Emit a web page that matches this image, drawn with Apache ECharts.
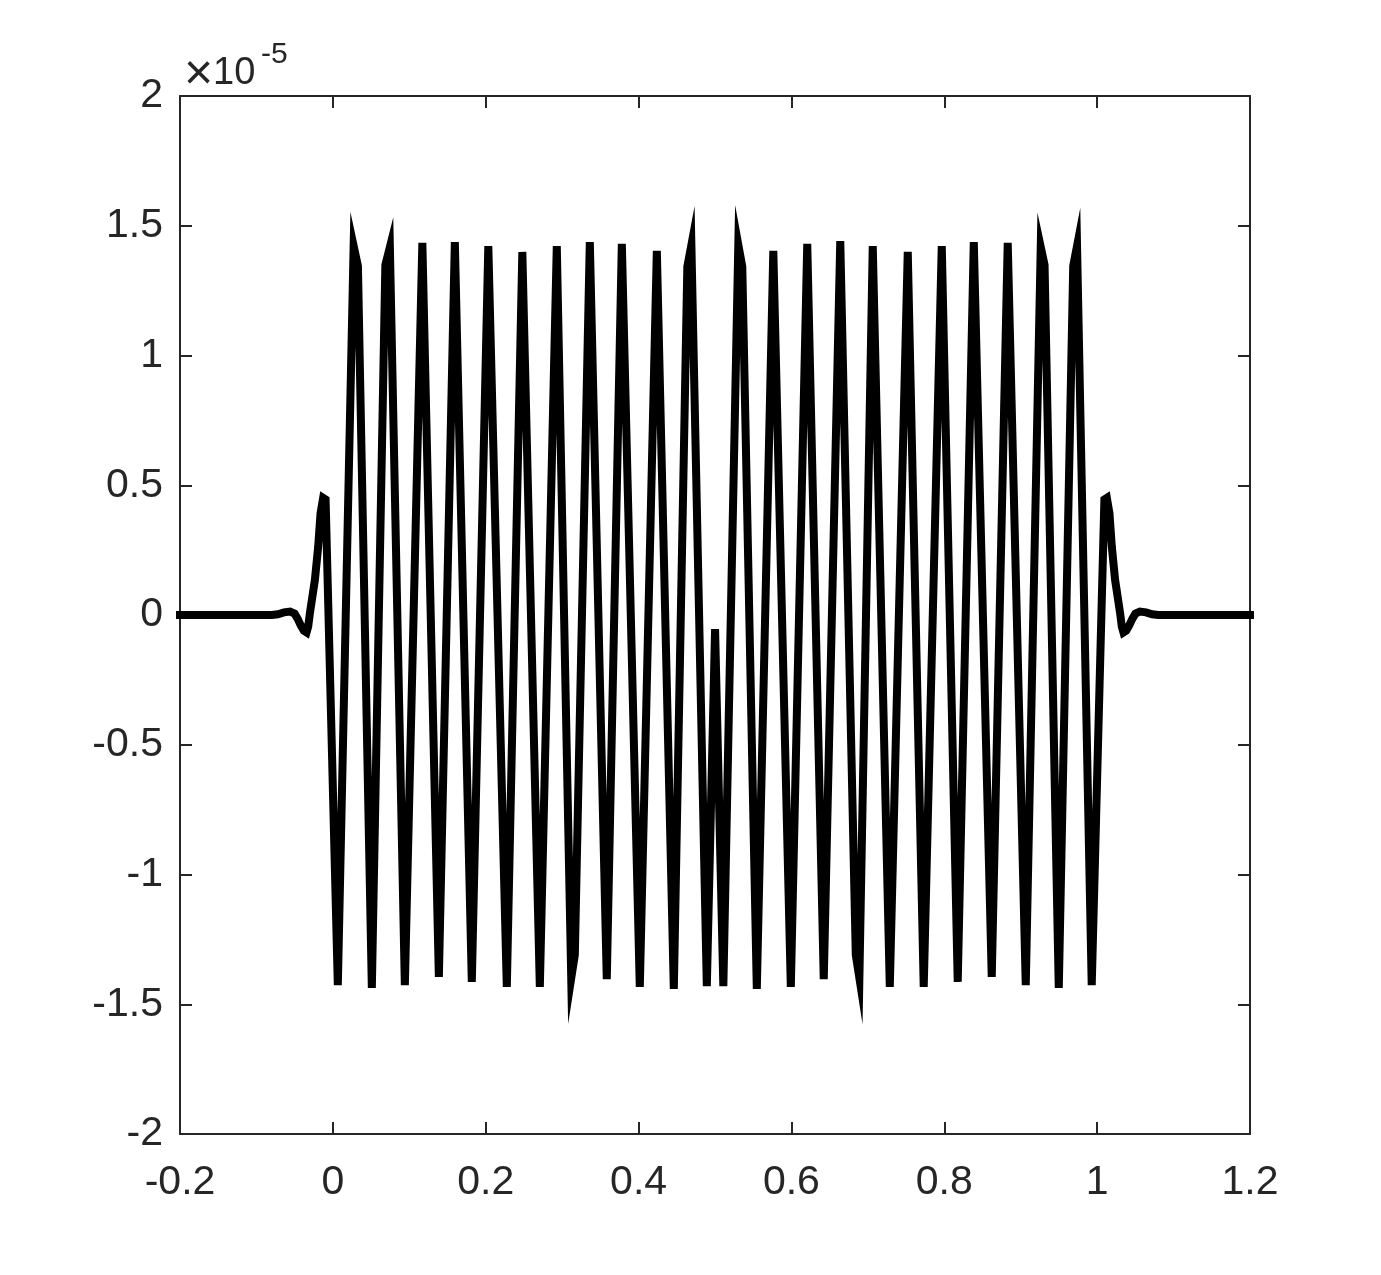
<!DOCTYPE html>
<html>
<head>
<meta charset="utf-8">
<script src="https://cdn.jsdelivr.net/npm/echarts@6/dist/echarts.min.js"></script>
<style>
  html, body { margin: 0; padding: 0; background: #fff; }
  #chart { width: 1381px; height: 1275px; }
</style>
</head>
<body>
<div id="chart"></div>
<script>
// sample positions (x) and values (y, in units of 1e-5)
const xs = [
  -0.2, -0.1, -0.08, -0.072, -0.064, -0.056, -0.05, -0.046, -0.042, -0.038,
  -0.0344, -0.0323, -0.0301, -0.0235, -0.0192, -0.0161, -0.0127, -0.0095,
  0.0065, 0.0272, 0.0328, 0.0510, 0.0687, 0.0746, 0.0942, 0.1171, 0.1387,
  0.1596, 0.1818, 0.2034, 0.2276, 0.2479, 0.2708, 0.2930, 0.3119, 0.3166,
  0.3362, 0.3584, 0.3781, 0.4016, 0.4239, 0.4461, 0.4638, 0.4691, 0.4893,
  0.5001, 0.5109, 0.5305, 0.5357, 0.5547, 0.5763, 0.5992, 0.6207, 0.6423,
  0.6639, 0.6842, 0.6889, 0.7064, 0.7287, 0.7522, 0.7731, 0.7967, 0.8176,
  0.8386, 0.8621, 0.8830, 0.9066, 0.9262, 0.9312, 0.9498, 0.9687, 0.9737,
  0.9929, 1.0095, 1.0127, 1.0161, 1.0192, 1.0235, 1.0301, 1.0323, 1.0344,
  1.038, 1.042, 1.046, 1.05, 1.056, 1.064, 1.072, 1.08, 1.1, 1.2
]
const ys = [
  0, 0, 0, 0.003, 0.01, 0.013, 0.005, -0.015, -0.04, -0.06,
  -0.067, -0.045, 0.006, 0.135, 0.263, 0.392, 0.451, 0.445,
  -1.426, 1.422, 1.345, -1.437, 1.349, 1.418, -1.426, 1.434, -1.395,
  1.437, -1.414, 1.422, -1.433, 1.399, -1.433, 1.422, -1.399, -1.31,
  1.437, -1.403, 1.430, -1.433, 1.403, -1.441, 1.342, 1.426, -1.430,
  -0.054, -1.430, 1.426, 1.342, -1.441, 1.403, -1.433, 1.430, -1.403,
  1.441, -1.31, -1.399, 1.422, -1.433, 1.399, -1.433, 1.422, -1.414,
  1.437, -1.395, 1.434, -1.426, 1.418, 1.349, -1.437, 1.345, 1.422,
  -1.426, 0.445, 0.451, 0.392, 0.263, 0.135, 0.006, -0.045, -0.067,
  -0.06, -0.04, -0.015, 0.005, 0.013, 0.01, 0.003, 0, 0, 0
]

// axis ranges / ticks
const xMin = -0.2, xMax = 1.2, xStep = 0.2
const yMin = -2, yMax = 2, yStep = 0.5
const exponentTimes = '×'
const exponentBase = '10'
const exponentPower = '-5'

const axisColor = '#262626'
const fontFamily = '"Liberation Sans", Arial, Helvetica, sans-serif'

const chart = echarts.init(document.getElementById('chart'), null, {renderer: 'canvas'})

const seriesData = xs.map((x, i) => [x, ys[i]])

// shared axis look: ticks inside, dark grey frame
const baseAxis = {
  type: 'value',
  axisLine: {show: true, onZero: false, lineStyle: {color: axisColor, width: 2}},
  axisTick: {show: true, inside: true, length: 12, lineStyle: {color: axisColor, width: 2}},
  splitLine: {show: false},
}

const labelStyle = {
  color: axisColor,
  fontSize: 41,
  fontFamily: fontFamily,
}

const option = {
  animation: false,
  backgroundColor: '#fff',
  grid: {left: 180, right: 131, top: 96, bottom: 141},
  graphic: [
    {
      type: 'text',
      left: 184,
      top: 50,
      style: {text: exponentTimes, fill: axisColor, fontSize: 50, fontFamily: fontFamily},
    },
    {
      type: 'text',
      left: 213,
      top: 55,
      style: {text: exponentBase, fill: axisColor, fontSize: 38, fontFamily: fontFamily},
    },
    {
      type: 'text',
      left: 261,
      top: 40,
      style: {text: exponentPower, fill: axisColor, fontSize: 30, fontFamily: fontFamily},
    },
  ],
  xAxis: [
    {
      ...baseAxis,
      position: 'bottom',
      min: xMin,
      max: xMax,
      interval: xStep,
      axisLabel: {...labelStyle, margin: 28},
    },
    {
      ...baseAxis,
      position: 'top',
      min: xMin,
      max: xMax,
      interval: xStep,
      axisLabel: {show: false},
    },
  ],
  yAxis: [
    {
      ...baseAxis,
      position: 'left',
      min: yMin,
      max: yMax,
      interval: yStep,
      axisLabel: {...labelStyle, margin: 17},
    },
    {
      ...baseAxis,
      position: 'right',
      min: yMin,
      max: yMax,
      interval: yStep,
      axisLabel: {show: false},
    },
  ],
  series: [
    {
      type: 'line',
      xAxisIndex: 0,
      yAxisIndex: 0,
      data: seriesData,
      showSymbol: false,
      symbol: 'none',
      clip: false,
      silent: true,
      lineStyle: {color: '#000', width: 8, join: 'miter', miterLimit: 15, cap: 'square'},
    },
  ],
}

chart.setOption(option)
</script>
</body>
</html>
